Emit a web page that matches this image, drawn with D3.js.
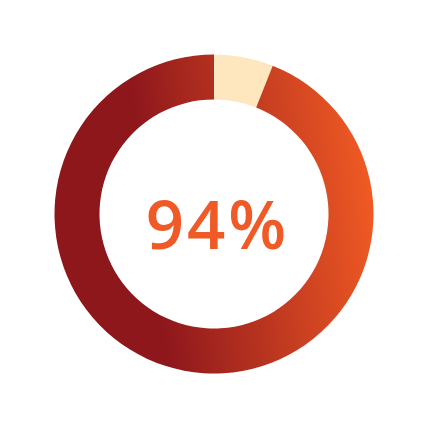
<!DOCTYPE html>
<html>
<head>
<meta charset="utf-8">
<script src="https://cdn.jsdelivr.net/npm/d3@7"></script>
<style>
  html, body { margin: 0; padding: 0; background: #fff; }
</style>
</head>
<body>
<div id="chart"></div>
<script>
// Chart data
const labels = ["Rest", "Share"];
const values = [6, 94];
const centerLabel = "94%";

const width = 428, height = 428;
const cx = 214, cy = 214;
const outerR = 159.5, innerR = 114.5;

const svg = d3.select("#chart")
    .append("svg")
    .attr("width", width)
    .attr("height", height);

// Gradient across the ring: dark red on the left, orange on the right
// (coordinates are relative to the ring's centre)
const grad = svg.append("defs").append("linearGradient")
    .attr("id", "ringGrad")
    .attr("gradientUnits", "userSpaceOnUse")
    .attr("x1", -64).attr("y1", 18)
    .attr("x2", 160).attr("y2", -12);
grad.append("stop").attr("offset", "0").attr("stop-color", "#8e171c");
grad.append("stop").attr("offset", "1").attr("stop-color", "#f05a24");

const colors = d3.scaleOrdinal()
    .domain(labels)
    .range(["#fee6be", "url(#ringGrad)"]);

const pie = d3.pie().sort(null).value(d => d);
const arc = d3.arc().innerRadius(innerR).outerRadius(outerR);

const g = svg.append("g").attr("transform", `translate(${cx},${cy})`);

g.selectAll("path")
    .data(pie(values))
    .join("path")
    .attr("d", arc)
    .attr("fill", (d, i) => colors(labels[i]));

svg.append("text")
    .attr("x", 217.5)
    .attr("y", 249)
    .attr("text-anchor", "middle")
    .attr("font-family", "'Open Sans', sans-serif")
    .attr("font-weight", 600)
    .attr("font-size", 67)
    .attr("letter-spacing", 3)
    .attr("fill", "#ef5a26")
    .text(centerLabel);
</script>
</body>
</html>
